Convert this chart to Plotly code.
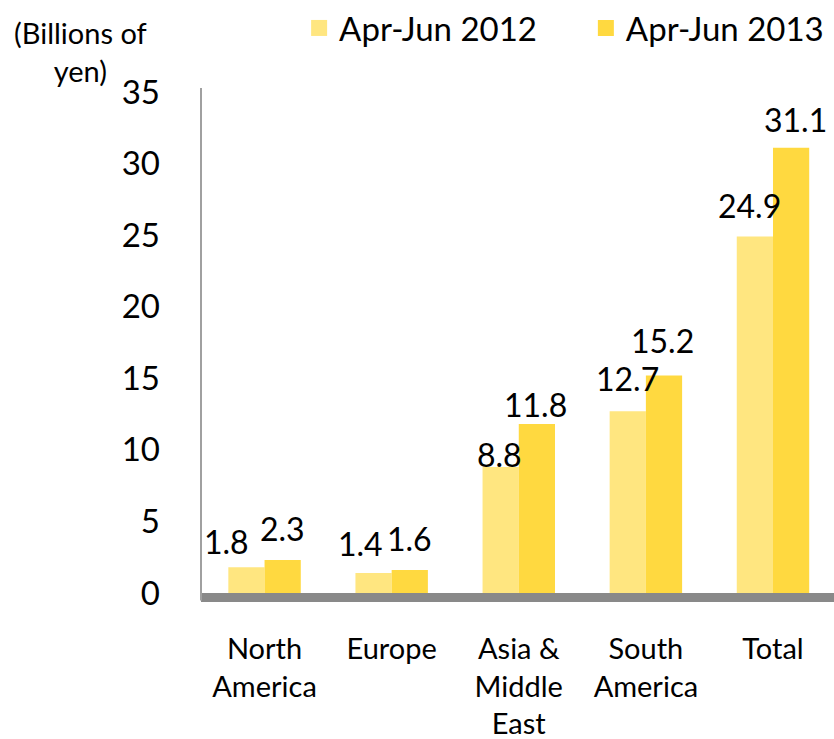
import plotly.graph_objects as go

# Overseas sales by region, billions of yen
regions = ["North<br>America", "Europe", "Asia &<br>Middle<br>East", "South<br>America", "Total"]
period_2012 = "Apr-Jun 2012"
period_2013 = "Apr-Jun 2013"
sales_2012 = [1.8, 1.4, 8.8, 12.7, 24.9]
sales_2013 = [2.3, 1.6, 11.8, 15.2, 31.1]
y_ticks = [0, 5, 10, 15, 20, 25, 30, 35]

# styling
FONT = "Lato"
COL_2012 = "#FFE680"
COL_2013 = "#FFD940"
BAR_HALF_PX = 18  # half of one bar's pixel width, used to place labels
# per-label pixel nudges: (dx, gap between bar top and text baseline)
nudge_2012 = [(-20, 12), (-13, 16), (-1, -1), (0, 19), (-5, 18)]
nudge_2013 = [(0, 18), (0, 18), (-1, 6), (-1, 21), (5, 15)]
DESCENT_PX = 8

fig = go.Figure()
fig.add_trace(go.Bar(x=regions, y=sales_2012, name=period_2012,
                     marker=dict(color=COL_2012, line=dict(width=0)),
                     showlegend=False))
fig.add_trace(go.Bar(x=regions, y=sales_2013, name=period_2013,
                     marker=dict(color=COL_2013, line=dict(width=0)),
                     showlegend=False))

# legend entries with larger square swatches, one legend box per period
for name, col, leg in [(period_2012, COL_2012, "legend"), (period_2013, COL_2013, "legend2")]:
    fig.add_trace(go.Scatter(x=[None], y=[None], mode="markers", name=name, legend=leg,
                             marker=dict(symbol="square", size=22, color=col)))

annotations = []
for vals, nudges, side in [(sales_2012, nudge_2012, -1), (sales_2013, nudge_2013, 1)]:
    for cat, v, (dx, gap) in zip(regions, vals, nudges):
        annotations.append(dict(
            x=cat, y=v, xref="x", yref="y", text=f"{v:.1f}", showarrow=False,
            xanchor="center", yanchor="bottom",
            xshift=side * BAR_HALF_PX + dx, yshift=gap - DESCENT_PX,
            font=dict(family=FONT, size=32, color="#000000")))

annotations.append(dict(
    x=-0.191, y=1.081, xref="paper", yref="paper",
    text="(Billions of<br>yen)", showarrow=False,
    xanchor="center", yanchor="middle", align="center",
    font=dict(family=FONT, size=29, color="#000000")))

shapes = [
    # floor band under the bars
    dict(type="rect", xref="paper", yref="paper", x0=0, x1=1.01, y0=-0.018, y1=0,
         fillcolor="#898989", line=dict(width=0), layer="above"),
    # value axis line
    dict(type="line", xref="paper", yref="paper", x0=0, x1=0, y0=-0.015, y1=1.008,
         line=dict(color="#A0A0A0", width=2)),
]

legend_style = dict(orientation="h", yanchor="middle", xanchor="left", y=1.128,
                    font=dict(family=FONT, size=33), itemsizing="trace",
                    bgcolor="rgba(0,0,0,0)")

fig.update_layout(
    width=834, height=739,
    margin=dict(l=201, r=0, t=87, b=146),
    paper_bgcolor="white", plot_bgcolor="white",
    barmode="group", bargap=0.43, bargroupgap=0,
    font=dict(family=FONT, color="#000000"),
    annotations=annotations, shapes=shapes,
    legend=dict(x=0.155, **legend_style),
    legend2=dict(x=0.608, **legend_style),
    xaxis=dict(range=[-0.5, 4.48], showgrid=False, showline=False, zeroline=False,
               ticks="", ticklabelstandoff=36,
               tickfont=dict(family=FONT, size=29, color="#000000")),
    yaxis=dict(range=[0, 35], tickvals=y_ticks, showgrid=False, showline=False,
               zeroline=False, ticks="", ticklabelstandoff=40,
               tickfont=dict(family=FONT, size=33, color="#000000")),
)

fig.write_html("out.html")
